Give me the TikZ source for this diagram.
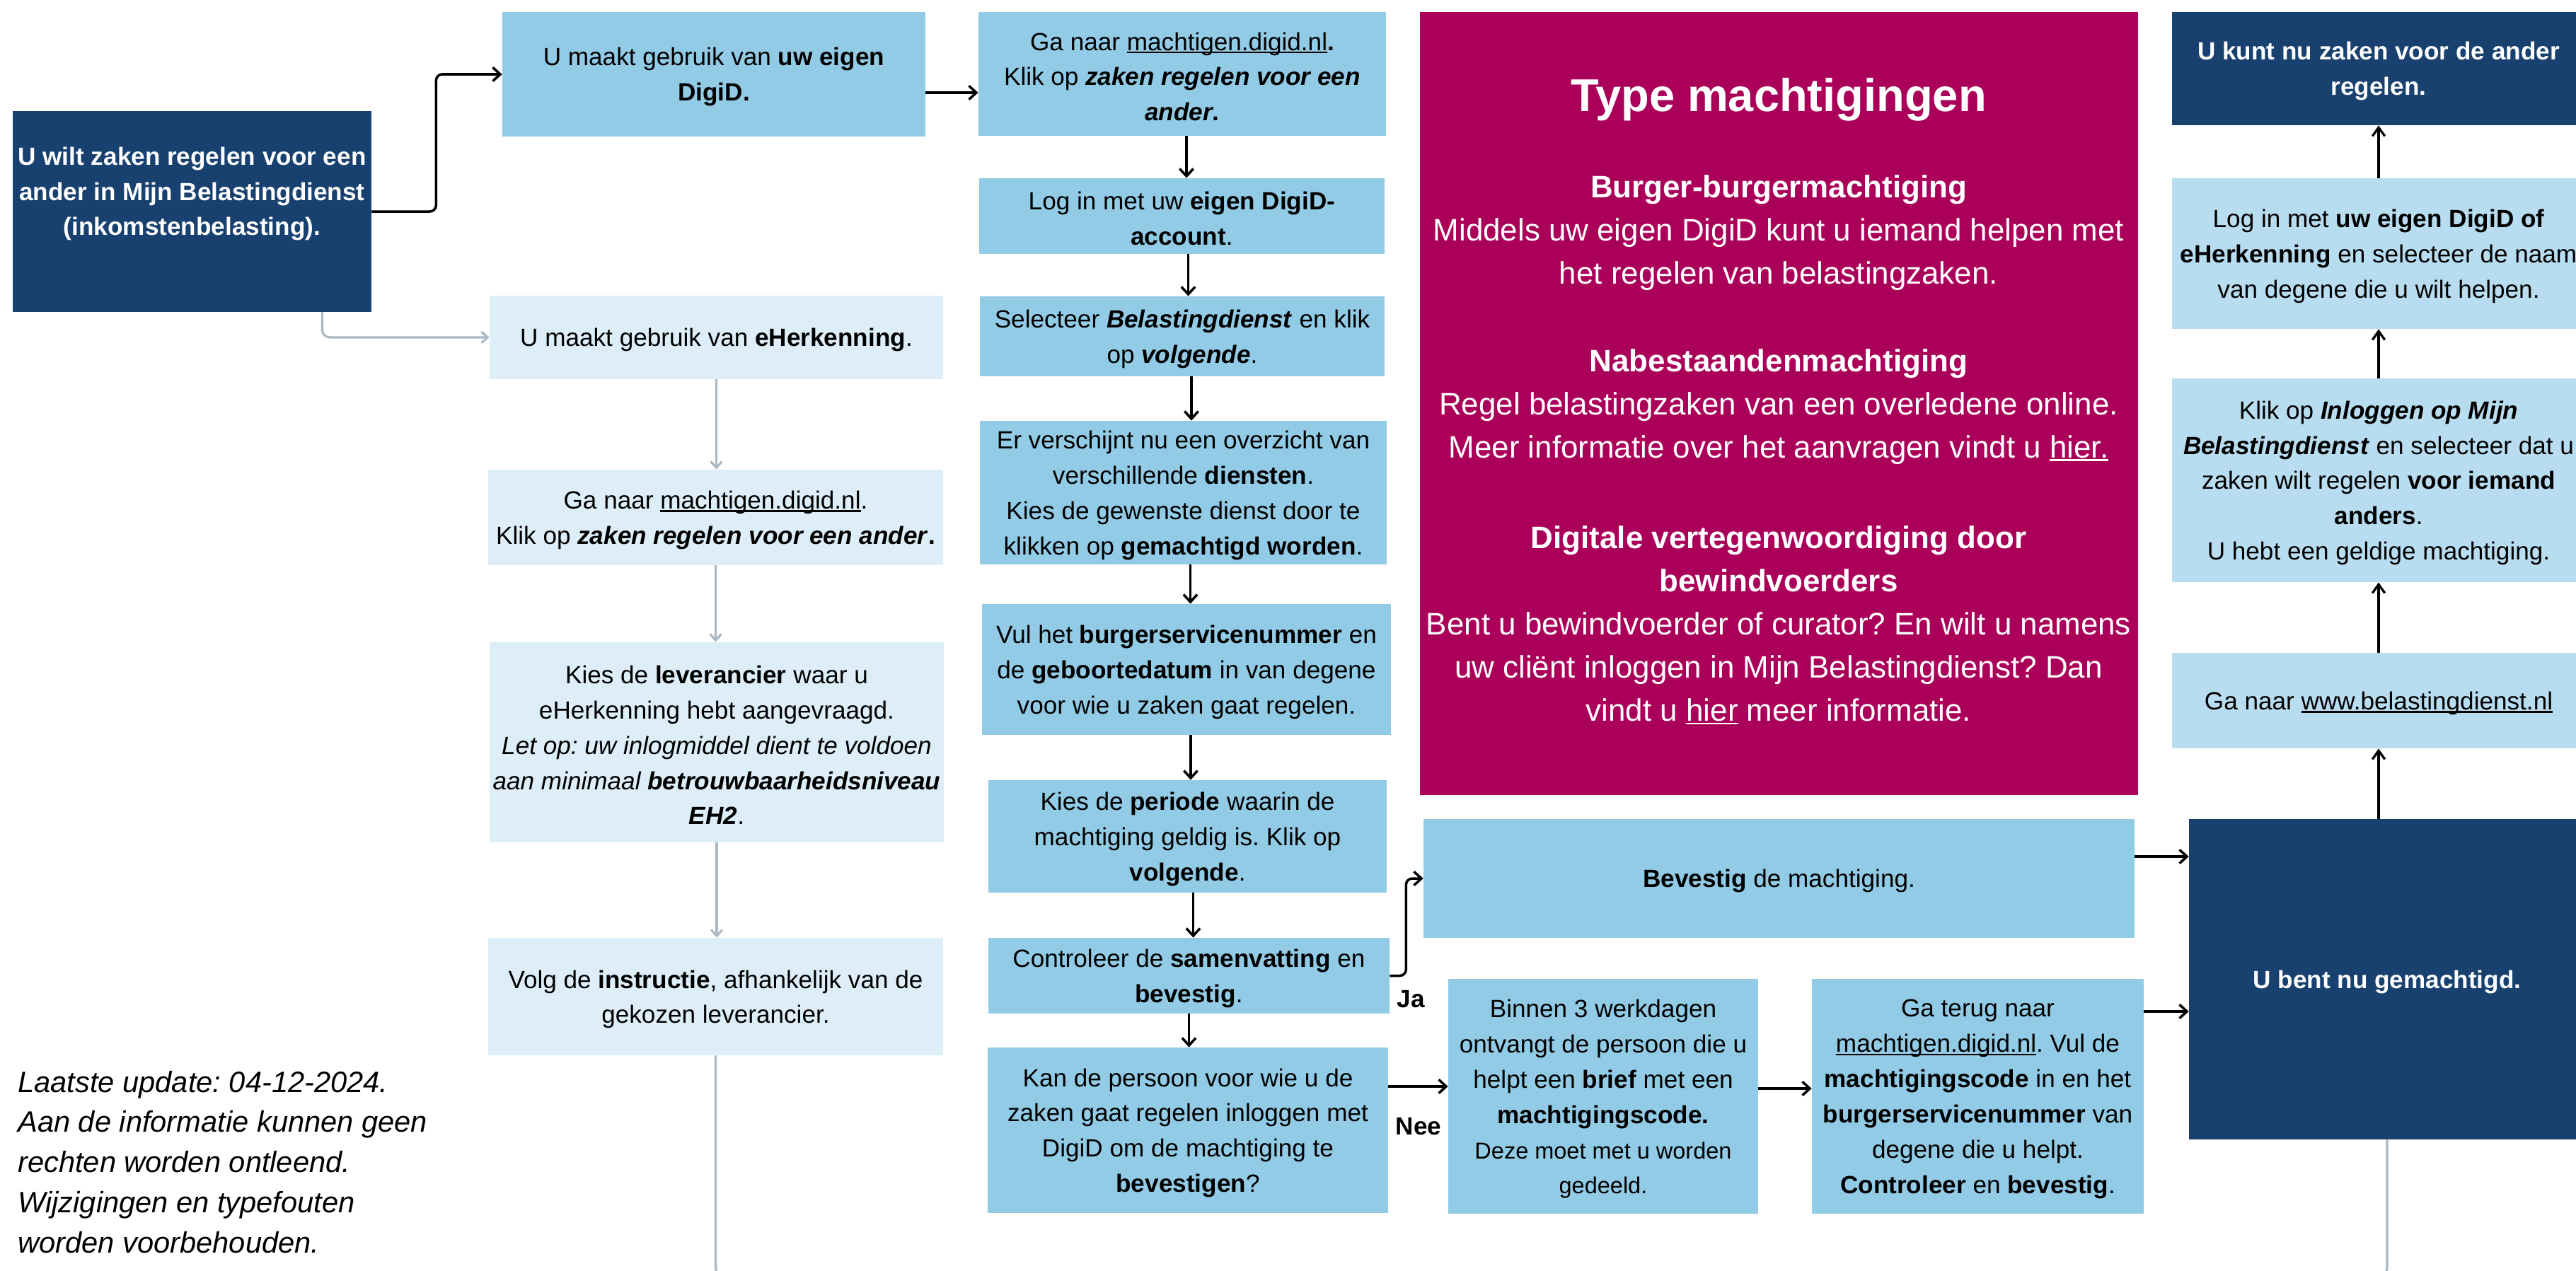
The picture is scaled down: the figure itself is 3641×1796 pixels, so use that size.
\documentclass[tikz,border=0pt]{standalone}
\usepackage{fontspec}
\setmainfont{Liberation Sans}
\usetikzlibrary{arrows.meta,calc,fit}
\definecolor{dkblue}{HTML}{18416F}
\definecolor{midblue}{HTML}{92CBE6}
\definecolor{lightblue}{HTML}{DDEEF8}
\definecolor{rightblue}{HTML}{B9DDF0}
\definecolor{magentabox}{HTML}{AA005A}
\definecolor{greyc}{HTML}{A9B8C4}
\frenchspacing
\newcommand\fBody{\fontsize{20}{28.4}\selectfont}
\newcommand\fSmallBody{\fontsize{18.5}{25}\selectfont}
\newcommand\fMag{\fontsize{25}{34.7}\selectfont}
\newcommand\fTitle{\fontsize{37}{44}\selectfont\bfseries}
\newcommand\fNote{\fontsize{23.7}{32.4}\selectfont\itshape}
\newcommand\undl[1]{\leavevmode\setbox0\hbox{#1}\rlap{\rule[-2.4pt]{\wd0}{1.3pt}}\box0\relax}
\begin{document}
\begin{tikzpicture}[x=0.02cm,y=-0.02cm,
  base/.style={rectangle,inner sep=0pt},
  bt/.style={align=center,font=\fBody,inner sep=0pt,text=black,yshift=-2.2pt},
  wt/.style={bt,text=white,font=\fBody\bfseries},
  darkbox/.style={base,fill=dkblue},
  midbox/.style={base,fill=midblue},
  lightbox/.style={base,fill=lightblue},
  rightbox/.style={base,fill=rightblue},
  magbox/.style={base,fill=magentabox},
  magtext/.style={align=center,text=white,font=\fMag,inner sep=0pt},
  arr/.style={draw=black,line width=2pt,rounded corners=5pt,-{Straight Barb[length=6pt,width=11pt,line width=2pt]}},
  rarr/.style={draw=black,line width=1.9pt,-{Straight Barb[length=7pt,width=10pt,line width=1.9pt]}},
  garr/.style={draw=greyc,line width=1.8pt,rounded corners=6pt,-{Straight Barb[length=5pt,width=9pt,line width=1.8pt]}},
  gline/.style={draw=greyc,line width=1.8pt,rounded corners=6pt},
  lab/.style={font=\fBody\bfseries,inner sep=0pt}]
\useasboundingbox (0,0) rectangle (3641,1796);
\clip (0,0) rectangle (3641,1796);

% left start box
\node[darkbox,fit={(18,157)(525,441)}] (start) {};
\node[wt,yshift=2.2pt] (starttxt) at ($(start.center)+(0,-25)$)
  {U wilt zaken regelen voor een\\ander in Mijn Belastingdienst\\(inkomstenbelasting).};

% DigiD branch
\node[midbox,fit={(710,17)(1308,193)},label={[bt]center:{U maakt gebruik van \textbf{uw eigen}\\\textbf{DigiD.}}}] (digid) {};

% eHerkenning column
\node[lightbox,fit={(692,418)(1333,536)},label={[bt]center:{U maakt gebruik van \textbf{eHerkenning}.}}] (eherk) {};
\node[lightbox,fit={(690,664)(1333,799)},label={[bt]center:{Ga naar \undl{machtigen.digid.nl}.\\Klik op \textbf{\textit{zaken regelen voor een ander}}\textbf{.}}}] (ganaarA) {};
\node[lightbox,fit={(692,908)(1334,1191)},label={[bt]center:{Kies de \textbf{leverancier} waar u\\eHerkenning hebt aangevraagd.\\\textit{Let op: uw inlogmiddel dient te voldoen}\\\textit{aan minimaal \textbf{betrouwbaarheidsniveau}}\\\textbf{\textit{EH2}}.}}] (kieslev) {};
\node[lightbox,fit={(690,1326)(1333,1492)},label={[bt]center:{Volg de \textbf{instructie}, afhankelijk van de\\gekozen leverancier.}}] (volg) {};

% middle column
\node[midbox,fit={(1383,17)(1959,192)},label={[bt]center:{Ga naar \undl{machtigen.digid.nl}\textbf{.}\\Klik op \textbf{\textit{zaken regelen voor een}}\\\textbf{\textit{ander}.}}}] (ganaarB) {};
\node[midbox,fit={(1384,252)(1957,359)},label={[bt]center:{Log in met uw \textbf{eigen DigiD-}\\\textbf{account}.}}] (loginB) {};
\node[midbox,fit={(1385,419)(1957,532)},label={[bt]center:{Selecteer \textbf{\textit{Belastingdienst}} en klik\\op \textbf{\textit{volgende}}.}}] (selecteer) {};
\node[midbox,fit={(1385,595)(1960,798)},label={[bt]center:{Er verschijnt nu een overzicht van\\verschillende \textbf{diensten}.\\Kies de gewenste dienst door te\\klikken op \textbf{gemachtigd worden}.}}] (overzicht) {};
\node[midbox,fit={(1388,854)(1966,1039)},label={[bt]center:{Vul het \textbf{burgerservicenummer} en\\de \textbf{geboortedatum} in van degene\\voor wie u zaken gaat regelen.}}] (vul) {};
\node[midbox,fit={(1397,1103)(1960,1262)},label={[bt]center:{Kies de \textbf{periode} waarin de\\machtiging geldig is. Klik op\\\textbf{volgende}.}}] (periode) {};
\node[midbox,fit={(1397,1326)(1964,1433)},label={[bt]center:{Controleer de \textbf{samenvatting} en\\\textbf{bevestig}.}}] (ctrl) {};
\node[midbox,fit={(1396,1481)(1962,1715)},label={[bt]center:{Kan de persoon voor wie u de\\zaken gaat regelen inloggen met\\DigiD om de machtiging te\\\textbf{bevestigen}?}}] (kan) {};

% magenta info box
\node[magbox,fit={(2007,17)(3022,1124)}] (types) {};
\node[text=white,font=\fTitle,inner sep=0pt] (typetitle) at (2514,141) {Type machtigingen};
\node[magtext] (burger) at (2514,329) {\textbf{Burger-burgermachtiging}\\Middels uw eigen DigiD kunt u iemand helpen met\\het regelen van belastingzaken.};
\node[magtext] (nabest) at (2514,575) {\textbf{Nabestaandenmachtiging}\\Regel belastingzaken van een overledene online.\\Meer informatie over het aanvragen vindt u \undl{hier.}};
\node[magtext] (digitaal) at (2514,884) {\textbf{Digitale vertegenwoordiging door}\\\textbf{bewindvoerders}\\Bent u bewindvoerder of curator? En wilt u namens\\uw cliënt inloggen in Mijn Belastingdienst? Dan\\vindt u \undl{hier} meer informatie.};

% lower middle
\node[midbox,fit={(2012,1158)(3017,1326)},label={[bt]center:{\textbf{Bevestig} de machtiging.}}] (bevestig) {};
\node[midbox,fit={(2047,1384)(2485,1716)},label={[bt]center:{Binnen 3 werkdagen\\ontvangt de persoon die u\\helpt een \textbf{brief} met een\\\textbf{machtigingscode.}\\{\fSmallBody Deze moet met u worden}\\{\fSmallBody gedeeld.}}}] (binnen) {};
\node[midbox,fit={(2561,1384)(3030,1716)},label={[bt]center:{Ga terug naar\\\undl{machtigen.digid.nl}. Vul de\\\textbf{machtigingscode} in en het\\\textbf{burgerservicenummer} van\\degene die u helpt.\\\textbf{Controleer} en \textbf{bevestig}.}}] (gaterug) {};

% right column
\node[darkbox,fit={(3094,1158)(3654,1611)},label={[wt]center:{U bent nu gemachtigd.}}] (bent) {};
\node[darkbox,fit={(3070,17)(3654,177)},label={[wt]center:{U kunt nu zaken voor de ander\\regelen.}}] (ukunt) {};
\node[rightbox,fit={(3070,252)(3654,465)},label={[bt]center:{Log in met \textbf{uw eigen DigiD of}\\\textbf{eHerkenning} en selecteer de naam\\van degene die u wilt helpen.}}] (loginR) {};
\node[rightbox,fit={(3070,535)(3654,823)},label={[bt]center:{Klik op \textbf{\textit{Inloggen op Mijn}}\\\textbf{\textit{Belastingdienst}} en selecteer dat u\\zaken wilt regelen \textbf{voor iemand}\\\textbf{anders}.\\U hebt een geldige machtiging.}}] (klik) {};
\node[rightbox,fit={(3070,923)(3654,1058)},label={[bt]center:{Ga naar \undl{www.belastingdienst.nl}}}] (www) {};

% footnote
\node[anchor=west,align=left,font=\fNote,inner sep=0pt] (note) at (25,1643) {Laatste update: 04-12-2024.\\Aan de informatie kunnen geen\\rechten worden ontleend.\\Wijzigingen en typefouten\\worden voorbehouden.};

% labels
\node[lab] (ja) at (1994,1413) {Ja};
\node[lab] (nee) at (2005,1593) {Nee};

% black connectors
\draw[arr] (start.east) -- ++(91,0) |- (digid.west);
\draw[arr] ($(digid.east)+(0,26)$) coordinate (d0) -- (d0 -| ganaarB.west);
\draw[arr] ($(ganaarB.south)+(6,0)$) coordinate (m1) -- (m1 |- loginB.north);
\draw[arr] ($(loginB.south)+(9,0)$) coordinate (m2) -- (m2 |- selecteer.north);
\draw[arr] ($(selecteer.south)+(13,0)$) coordinate (m3) -- (m3 |- overzicht.north);
\draw[arr] ($(overzicht.south)+(10,0)$) coordinate (m4) -- (m4 |- vul.north);
\draw[arr] ($(vul.south)+(6,0)$) coordinate (m5) -- (m5 |- periode.north);
\draw[arr] ($(periode.south)+(8,0)$) coordinate (m6) -- (m6 |- ctrl.north);
\draw[arr] (ctrl.south) -- (ctrl.south |- kan.north);
\draw[arr] (ctrl.east) -- ++(23,0) |- (bevestig.west);
\draw[arr] ($(kan.east)+(0,-62)$) coordinate (n0) -- (n0 -| binnen.west);
\draw[arr] ($(binnen.east)+(0,-11)$) coordinate (b0) -- (b0 -| gaterug.west);
\draw[arr] ($(gaterug.east)+(0,-120)$) coordinate (t0) -- (t0 -| bent.west);
\draw[arr] ($(bevestig.east)+(0,-31)$) coordinate (v0) -- (v0 -| bent.west);

% right column arrows
\draw[rarr] (www.south |- bent.north) -- (www.south);
\draw[rarr] (www.north) -- (klik.south);
\draw[rarr] (klik.north) -- (loginR.south);
\draw[rarr] (loginR.north) -- (ukunt.south);

% grey connectors
\draw[garr] ($(start.south)+(184,0)$) coordinate (g0) |- (eherk.west);
\draw[garr] (eherk.south) -- (eherk.south |- ganaarA.north);
\draw[garr] (ganaarA.south) -- (ganaarA.south |- kieslev.north);
\draw[garr] (kieslev.south) -- (kieslev.south |- volg.north);
\draw[gline] (volg.south) -- ++(0,311) -| (bent.south);
\end{tikzpicture}
\end{document}
